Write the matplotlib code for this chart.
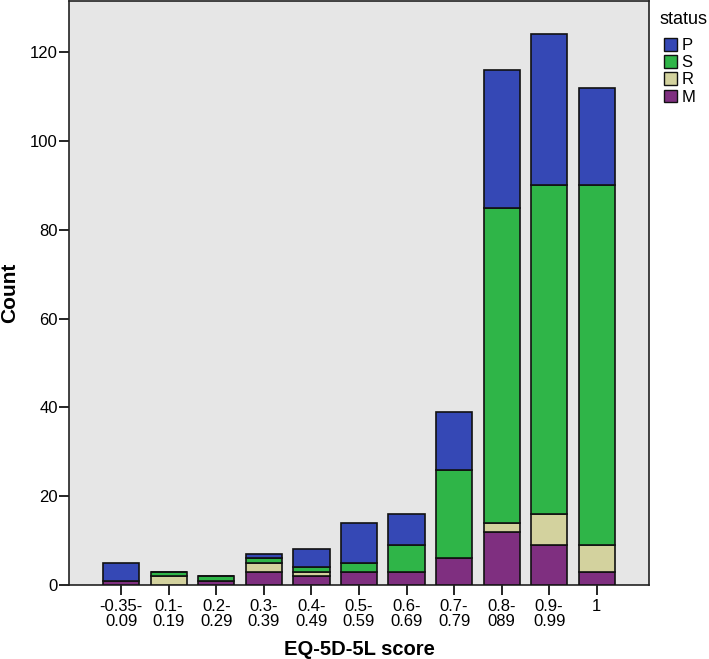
import numpy as np
import matplotlib
matplotlib.use('Agg')
import matplotlib.pyplot as plt
from matplotlib.patches import Patch

plt.rcParams['font.family'] = ['Liberation Sans', 'DejaVu Sans']

categories = ['-0.35-\n0.09', '0.1-\n0.19', '0.2-\n0.29', '0.3-\n0.39', '0.4-\n0.49',
              '0.5-\n0.59', '0.6-\n0.69', '0.7-\n0.79', '0.8-\n089', '0.9-\n0.99', '1']

# stacked from bottom: M, R, S, P
m_vals = [1, 0, 1, 3, 2, 3, 3, 6, 12, 9, 3]
r_vals = [0, 2, 0, 2, 1, 0, 0, 0, 2, 7, 6]
s_vals = [0, 1, 1, 1, 1, 2, 6, 20, 71, 74, 81]
p_vals = [4, 0, 0, 1, 4, 9, 7, 13, 31, 34, 22]

series = [('M', m_vals, '#7f2f80'),
          ('R', r_vals, '#d3d29e'),
          ('S', s_vals, '#2fb548'),
          ('P', p_vals, '#3548b5')]

fig = plt.figure(figsize=(7.09, 6.59), dpi=100)
ax = fig.add_axes([69 / 709, 74 / 659, 580 / 709, 584 / 659])
ax.set_facecolor('#e6e6e6')

x = np.arange(len(categories))
bottom = np.zeros(len(categories))
for name, vals, col in series:
    vals = np.array(vals, dtype=float)
    ax.bar(x, vals, bottom=bottom, width=0.76, color=col,
           edgecolor='#111111', linewidth=1.2, zorder=3)
    bottom += vals

ax.set_xlim(-1.1, 11.1)
ax.set_ylim(0, 131.5)
ax.set_yticks(range(0, 121, 20))
ax.set_xticks(x)
ax.set_xticklabels(categories, fontsize=12, linespacing=1.0)
ax.tick_params(axis='y', labelsize=12, length=7, width=1.2, pad=1)
ax.tick_params(axis='x', length=7, width=1.2, pad=3)
for sp in ax.spines.values():
    sp.set_linewidth(1.2)
    sp.set_color('#222222')

ax.set_xlabel('EQ-5D-5L score', fontsize=14.5, fontweight='bold', labelpad=8)
ax.set_ylabel('Count', fontsize=15, fontweight='bold')
ax.yaxis.set_label_coords(-50 / 580, 0.5)

# legend title drawn separately so the boxes sit indented under it
fig.text(659 / 709, 1 - 20 / 659, 'status', fontsize=13, ha='left', va='center')
handles = [Patch(facecolor=col, edgecolor='#111111', label=name)
           for name, vals, col in series[::-1]]
leg = fig.legend(handles=handles, loc='upper left',
                 bbox_to_anchor=(664 / 709, 1 - 38 / 659), frameon=False,
                 fontsize=12, handlelength=0.8, handleheight=0.8,
                 handletextpad=0.25, labelspacing=0.12,
                 borderaxespad=0.0, borderpad=0.0)

fig.savefig('out.png', dpi=100)
